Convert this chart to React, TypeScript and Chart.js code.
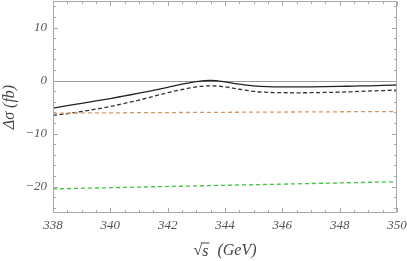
import React, { useEffect, useRef } from 'react';
import { Chart, registerables } from 'chart.js';
Chart.register(...registerables);

const energies = [338, 338.5, 339, 339.5, 340, 340.5, 341, 341.5, 342, 342.5, 343, 343.5, 344, 344.5, 345, 345.5, 346, 346.5, 347, 347.5, 348, 348.5, 349, 349.5, 350];
const solidValues = [-5.2, -4.75, -4.3, -3.85, -3.4, -2.9, -2.4, -1.85, -1.3, -0.7, -0.2, 0.0, -0.25, -0.7, -1.0, -1.15, -1.2, -1.22, -1.2, -1.17, -1.12, -1.05, -1.0, -0.92, -0.85];
const dashedValues = [-6.6, -6.25, -5.85, -5.4, -4.9, -4.3, -3.7, -3.0, -2.3, -1.7, -1.2, -1.0, -1.2, -1.65, -2.05, -2.25, -2.3, -2.32, -2.3, -2.25, -2.2, -2.1, -2.0, -1.9, -1.8];
const straightEnergies = [338, 350];
const orangeValues = [-6.15, -5.85];
const greenValues = [-20.45, -19.1];

const xTicks = [338, 340, 342, 344, 346, 348, 350];
const yTicks = [-20, -10, 0, 10];
const xMin = 338, xMax = 350, yMin = -25, yMax = 15;

const pts = (xs: number[], ys: number[]) => xs.map((x, i) => ({ x, y: ys[i] }));

const framePlugin = {
  id: 'frame',
  beforeDatasetsDraw(chart: any) {
    const { ctx, chartArea: a, scales } = chart;
    const y0 = Math.round(scales.y.getPixelForValue(0)) + 0.5;
    ctx.save();
    ctx.strokeStyle = '#9a9a9a';
    ctx.lineWidth = 1;
    ctx.beginPath();
    ctx.moveTo(a.left, y0);
    ctx.lineTo(a.right, y0);
    ctx.stroke();
    ctx.restore();
  },
  afterDatasetsDraw(chart: any) {
    const { ctx, chartArea: a, scales } = chart;
    ctx.save();
    ctx.strokeStyle = '#a8a8a8';
    ctx.lineWidth = 1;
    const L = Math.round(a.left) + 0.5, R = Math.round(a.right) - 0.5;
    const T = Math.round(a.top) + 0.5, B = Math.round(a.bottom) - 0.5;
    ctx.beginPath();
    ctx.rect(L, T, R - L, B - T);
    ctx.stroke();
    ctx.beginPath();
    for (let v = xMin; v <= xMax + 1e-9; v += 0.5) {
      const major = Math.abs(v / 2 - Math.round(v / 2)) < 1e-9;
      const len = major ? 4.5 : 2.5;
      const px = Math.round(scales.x.getPixelForValue(v)) + 0.5;
      ctx.moveTo(px, B); ctx.lineTo(px, B - len);
      ctx.moveTo(px, T); ctx.lineTo(px, T + len);
    }
    for (let v = -24; v <= 14; v += 2) {
      const major = v % 10 === 0;
      const len = major ? 4.5 : 2.5;
      const py = Math.round(scales.y.getPixelForValue(v)) + 0.5;
      ctx.moveTo(L, py); ctx.lineTo(L + len, py);
      ctx.moveTo(R, py); ctx.lineTo(R - len, py);
    }
    ctx.stroke();

    // axis titles
    ctx.fillStyle = '#444';
    ctx.textBaseline = 'middle';
    // y title
    ctx.save();
    ctx.translate(10, (a.top + a.bottom) / 2);
    ctx.rotate(-Math.PI / 2);
    ctx.textAlign = 'center';
    ctx.font = 'italic 16px "Liberation Serif"';
    ctx.fillText('Δσ (fb)', 0, 0);
    ctx.restore();
    // x title
    const cx = (a.left + a.right) / 2;
    const cy = 251;
    const fRad = '16px "Liberation Serif"';
    const fIt = 'italic 16px "Liberation Serif"';
    ctx.font = fRad;
    const wRad = ctx.measureText('√').width;
    ctx.font = fIt;
    const wS = ctx.measureText('s').width;
    const rest = '  (GeV)';
    const wRest = ctx.measureText(rest).width;
    const total = wRad + wS + 1 + wRest;
    let x = cx - total / 2;
    ctx.textAlign = 'left';
    ctx.font = fRad;
    ctx.fillText('√', x, cy);
    x += wRad;
    ctx.font = fIt;
    ctx.fillText('s', x, cy + 1);
    ctx.strokeStyle = '#444';
    ctx.beginPath();
    ctx.moveTo(x - 1, cy - 8);
    ctx.lineTo(x + wS + 1, cy - 8);
    ctx.stroke();
    x += wS + 1;
    ctx.fillText(rest, x, cy);
    ctx.restore();
  },
};

const tickFont = { family: '"Liberation Serif"', style: 'italic' as const, size: 13 };

export default function App() {
  const ref = useRef<HTMLCanvasElement>(null);
  useEffect(() => {
    document.body.style.margin = '0';
    const chart = new Chart(ref.current!, {
      type: 'line',
      data: {
        datasets: [
          { data: pts(straightEnergies, greenValues), borderColor: '#3cc43c', borderWidth: 1.3, borderDash: [4, 3], pointRadius: 0, fill: false },
          { data: pts(straightEnergies, orangeValues), borderColor: '#d29a68', borderWidth: 1.3, borderDash: [4, 3], pointRadius: 0, fill: false },
          { data: pts(energies, dashedValues), borderColor: '#333', borderWidth: 1.3, borderDash: [4, 2.5], pointRadius: 0, fill: false, cubicInterpolationMode: 'monotone' },
          { data: pts(energies, solidValues), borderColor: '#222', borderWidth: 1.3, pointRadius: 0, fill: false, cubicInterpolationMode: 'monotone' },
        ],
      },
      options: {
        animation: false,
        responsive: false,
        maintainAspectRatio: false,
        layout: { padding: { top: 1, right: 10, left: 0, bottom: 0 } },
        plugins: { legend: { display: false }, tooltip: { enabled: false } },
        scales: {
          x: {
            type: 'linear', min: xMin, max: xMax,
            afterBuildTicks: (s: any) => { s.ticks = xTicks.map((v) => ({ value: v })); },
            afterFit: (s: any) => { s.height = 48; s.paddingLeft = 0; s.paddingRight = 0; s.paddingTop = 0; s.paddingBottom = 0; },
            grid: { display: false, drawTicks: false },
            border: { display: false },
            ticks: { font: tickFont, color: '#555', padding: 5, maxRotation: 0, autoSkip: false, callback: (v: any) => String(v) },
          },
          y: {
            type: 'linear', min: yMin, max: yMax,
            afterBuildTicks: (s: any) => { s.ticks = yTicks.map((v) => ({ value: v })); },
            afterFit: (s: any) => { s.width = 53; s.paddingLeft = 0; s.paddingRight = 0; s.paddingTop = 0; s.paddingBottom = 0; },
            grid: { display: false, drawTicks: false },
            border: { display: false },
            ticks: { font: tickFont, color: '#555', padding: 6, autoSkip: false, callback: (v: any) => String(v).replace('-', '−') },
          },
        },
      },
      plugins: [framePlugin],
    } as any);
    return () => chart.destroy();
  }, []);
  return <canvas ref={ref} width={407} height={261} style={{ display: 'block' }} />;
}
